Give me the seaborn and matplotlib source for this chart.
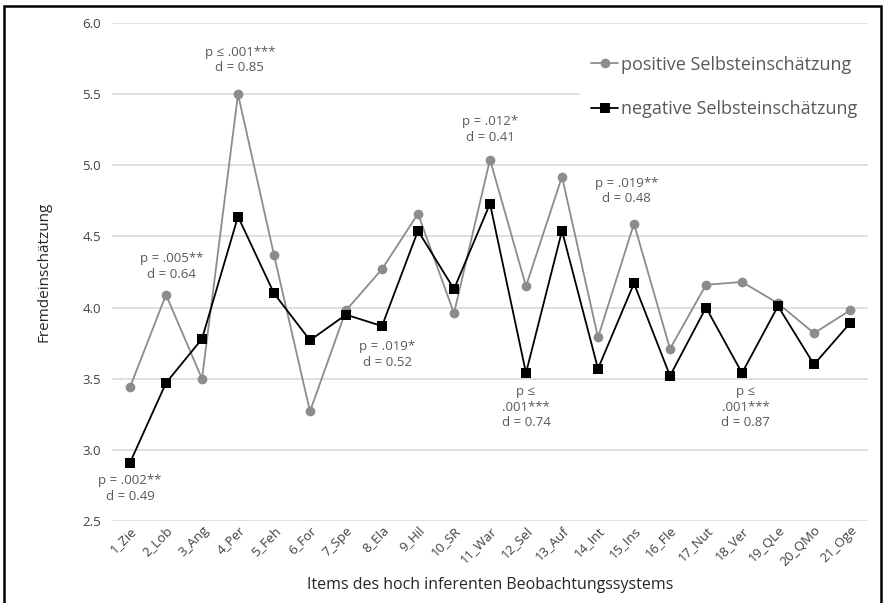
import numpy as np
import pandas as pd
import matplotlib
matplotlib.use("Agg")
import matplotlib.pyplot as plt
import seaborn as sns
from matplotlib.patches import Rectangle

# ----------------------------------------
# Data
# ----------------------------------------
items = [
    "1_Zie", "2_Lob", "3_Ang", "4_Per", "5_Feh", "6_For", "7_Spe",
    "8_Ela", "9_Hil", "10_SR", "11_War", "12_Sel", "13_Auf", "14_Int",
    "15_Ins", "16_Fle", "17_Nut", "18_Ver", "19_QLe", "20_QMo", "21_Oge",
]

positive = [3.44, 4.09, 3.50, 5.50, 4.37, 3.27, 3.98, 4.27, 4.66, 3.96, 5.04,
            4.15, 4.92, 3.79, 4.59, 3.71, 4.16, 4.18, 4.03, 3.82, 3.98]
negative = [2.91, 3.47, 3.78, 4.64, 4.10, 3.77, 3.95, 3.87, 4.54, 4.13, 4.73,
            3.54, 4.54, 3.57, 4.17, 3.52, 4.00, 3.54, 4.01, 3.60, 3.89]

group_pos = "positive Selbsteinschätzung"
group_neg = "negative Selbsteinschätzung"

# annotations: (item, y, text)
notes_item = ["1_Zie", "2_Lob", "4_Per", "8_Ela", "11_War", "12_Sel", "15_Ins", "18_Ver"]
notes_y = [2.73, 4.29, 5.74, 3.67, 5.25, 3.30, 4.82, 3.30]
notes_text = [
    "p = .002**\nd = 0.49",
    "p = .005**\nd = 0.64",
    "p ≤ .001***\nd = 0.85",
    "p = .019*\nd = 0.52",
    "p = .012*\nd = 0.41",
    "p ≤\n.001***\nd = 0.74",
    "p = .019**\nd = 0.48",
    "p ≤\n.001***\nd = 0.87",
]
notes_dx = [0.0, 0.15, 0.05, 0.15, 0.0, 0.0, -0.2, 0.1]

df = pd.DataFrame({
    "Item": items * 2,
    "Wert": positive + negative,
    "Gruppe": [group_pos] * len(items) + [group_neg] * len(items),
})

# ----------------------------------------
# Plot
# ----------------------------------------
sns.set_theme(style="white")
plt.rcParams["font.family"] = ["Open Sans", "DejaVu Sans"]

fig = plt.figure(figsize=(8.83, 6.03), dpi=100)
ax = fig.add_axes([112 / 883, 82 / 603, 756 / 883, 498 / 603])

sns.lineplot(
    data=df,
    x="Item",
    y="Wert",
    hue="Gruppe",
    style="Gruppe",
    markers={group_pos: "o", group_neg: "s"},
    dashes=False,
    palette={group_pos: "#8c8c8c", group_neg: "#000000"},
    markersize=7,
    markeredgewidth=0,
    linewidth=1.3,
    sort=False,
    ax=ax,
)

ax.set_ylim(2.5, 6.0)
ax.set_xlim(-0.5, len(items) - 0.5)
ax.set_yticks(np.arange(2.5, 6.01, 0.5))
ax.set_yticklabels([f"{v:.1f}" for v in np.arange(2.5, 6.01, 0.5)],
                   fontsize=9.5, color="#404040")
ax.yaxis.grid(True, color="#d9d9d9", linewidth=1.2)
ax.set_axisbelow(True)
for s in ax.spines.values():
    s.set_visible(False)
ax.tick_params(axis="y", pad=8, length=0)
ax.tick_params(axis="x", length=0, pad=2)
plt.setp(ax.get_xticklabels(), rotation=45, ha="right", rotation_mode="anchor",
         fontsize=9.5, color="#404040")

ax.set_xlabel("Items des hoch inferenten Beobachtungssystems",
              fontsize=11.5, color="#262626", labelpad=6)
ax.set_ylabel("Fremdeinschätzung", fontsize=11, color="#262626", labelpad=22)

for it, yy, txt, dx in zip(notes_item, notes_y, notes_text, notes_dx):
    ax.text(items.index(it) + dx, yy, txt, ha="center", va="center",
            fontsize=9.5, color="#595959", linespacing=1.25)

leg = ax.legend(
    loc="upper right",
    bbox_to_anchor=(1.012, 0.974),
    frameon=True,
    fontsize=13,
    handlelength=1.5,
    handletextpad=0.15,
    labelspacing=1.45,
    borderpad=0.6,
    title=None,
)
leg.get_frame().set_facecolor("white")
leg.get_frame().set_edgecolor("white")
leg.get_frame().set_alpha(1.0)
for t in leg.get_texts():
    t.set_color("#595959")

# figure border
fig.patches.append(Rectangle((4 / 883, -0.01), 877 / 883, (597 / 603) + 0.01,
                             transform=fig.transFigure, fill=False,
                             edgecolor="black", linewidth=1.8))

plt.savefig("out.png", dpi=100)
plt.close()
